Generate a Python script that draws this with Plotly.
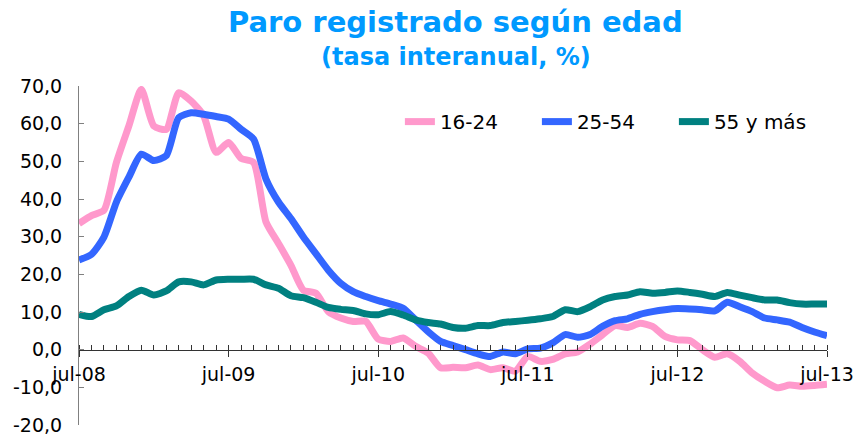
import plotly.graph_objects as go

# Monthly categories jul-08 .. jul-13
month_names = ["jul", "ago", "sep", "oct", "nov", "dic", "ene", "feb", "mar", "abr", "may", "jun"]
months = []
for k in range(61):
    m = month_names[k % 12]
    yr = 8 + (k + 6) // 12
    months.append(f"{m}-{yr:02d}")

tick_labels = ["jul-08", "jul-09", "jul-10", "jul-11", "jul-12", "jul-13"]

y_tick_values = [-20, -10, 0, 10, 20, 30, 40, 50, 60, 70]
y_tick_labels = ["-20,0", "-10,0", "0,0", "10,0", "20,0", "30,0", "40,0", "50,0", "60,0", "70,0"]

age_16_24 = [33.5, 35.6, 37.0, 49.7, 59.4, 69.1, 59.4, 58.5, 68.2, 66.0, 62.1, 52.4, 55.0,
             50.8, 49.7, 33.9, 28.2, 22.4, 15.8, 15.0, 10.1, 8.4, 7.5, 7.5, 2.8,
             2.2, 3.1, 0.9, -0.9, -4.8, -4.7, -4.8, -4.1, -5.3, -4.8, -5.7, -1.8,
             -3.1, -2.6, -1.1, -0.6, 1.5, 4.0, 6.4, 5.9, 7.0, 6.2, 3.5, 2.6,
             2.4, 0.0, -2.0, -1.1, -3.1, -6.2, -8.4, -10.1, -9.4, -9.7, -9.5, -9.2]

age_25_54 = [23.8, 25.3, 29.9, 39.2, 45.8, 51.9, 50.2, 51.5, 61.6, 62.9, 62.5, 61.9, 61.2,
             58.5, 55.9, 45.3, 39.2, 34.8, 29.9, 25.5, 21.1, 17.6, 15.4, 14.1, 13.0,
             12.1, 11.0, 7.9, 4.8, 2.2, 1.1, 0.0, -1.1, -1.8, -0.6, -1.1, 0.2,
             0.4, 1.8, 4.0, 3.3, 4.0, 6.2, 7.7, 8.2, 9.4, 10.1, 10.6, 10.9,
             10.8, 10.6, 10.3, 12.6, 11.4, 10.1, 8.4, 7.9, 7.3, 5.9, 4.7, 3.7]

age_55_plus = [9.4, 8.8, 10.6, 11.6, 14.1, 15.8, 14.5, 15.6, 18.0, 18.0, 17.2, 18.5, 18.7,
               18.7, 18.7, 17.2, 16.3, 14.3, 13.8, 12.6, 11.2, 10.7, 10.4, 9.5, 9.3,
               10.1, 9.2, 7.9, 7.2, 6.8, 5.9, 5.7, 6.4, 6.4, 7.2, 7.5, 7.8,
               8.2, 8.8, 10.6, 10.1, 11.4, 13.2, 14.1, 14.5, 15.4, 15.0, 15.2, 15.6,
               15.2, 14.7, 14.1, 15.2, 14.5, 13.8, 13.2, 13.2, 12.5, 12.1, 12.1, 12.1]

series = [
    ("16-24", age_16_24, "#FF99CC"),
    ("25-54", age_25_54, "#3366FF"),
    ("55 y más", age_55_plus, "#008080"),
]

x_idx = list(range(len(months)))
tick_pos = [months.index(t) for t in tick_labels]

fig = go.Figure()
for name, vals, col in series:
    fig.add_trace(go.Scatter(
        x=x_idx, y=vals, name=name, mode="lines", text=months,
        line=dict(color=col, width=7, shape="spline", smoothing=0.6),
        hovertemplate="%{text}: %{y}<extra>" + name + "</extra>",
    ))

FONT = "DejaVu Sans"
fig.update_layout(
    width=855, height=437,
    margin=dict(l=79, r=28, t=86, b=12, autoexpand=False),
    paper_bgcolor="white", plot_bgcolor="white",
    separators=",.",
    font=dict(family=FONT, size=19, color="black"),
    showlegend=True,
    legend=dict(orientation="h", x=0.429, y=0.895, xanchor="left", yanchor="middle",
                font=dict(family=FONT, size=20, color="black"),
                bgcolor="rgba(0,0,0,0)", entrywidth=92, itemwidth=30),
    annotations=[
        dict(text="<b>Paro registrado según edad</b>", xref="paper", yref="paper",
             x=0.504, y=1.19, xanchor="center", yanchor="middle", showarrow=False,
             font=dict(family=FONT, size=29, color="#0099FF")),
        dict(text="<b>(tasa interanual, %)</b>", xref="paper", yref="paper",
             x=0.504, y=1.087, xanchor="center", yanchor="middle", showarrow=False,
             font=dict(family=FONT, size=24, color="#0099FF")),
    ],
)

fig.update_xaxes(
    range=[0, 60], anchor="free", position=20 / 90, automargin=False,
    showgrid=False, zeroline=False,
    showline=True, linecolor="#333333", linewidth=1,
    tickmode="array", tickvals=tick_pos, ticktext=tick_labels,
    ticks="outside", ticklen=6, tickcolor="#333333",
    ticklabelstandoff=2, ticklabeloverflow="allow",
    tickfont=dict(family=FONT, size=19, color="black"),
    minor=dict(dtick=1, tick0=0, ticks="inside", ticklen=5, tickcolor="#333333", showgrid=False),
)
fig.update_yaxes(
    range=[-20, 70], automargin=False,
    tickmode="array", tickvals=y_tick_values, ticktext=y_tick_labels,
    showgrid=False, zeroline=False,
    showline=True, linecolor="#808080", linewidth=1,
    ticks="inside", ticklen=5, tickcolor="#808080",
    ticklabelstandoff=12, ticklabeloverflow="allow",
    tickfont=dict(family=FONT, size=19, color="black"),
)

fig.write_html("out.html", config={"displayModeBar": False},
               post_script="document.body.style.margin='0px';")
